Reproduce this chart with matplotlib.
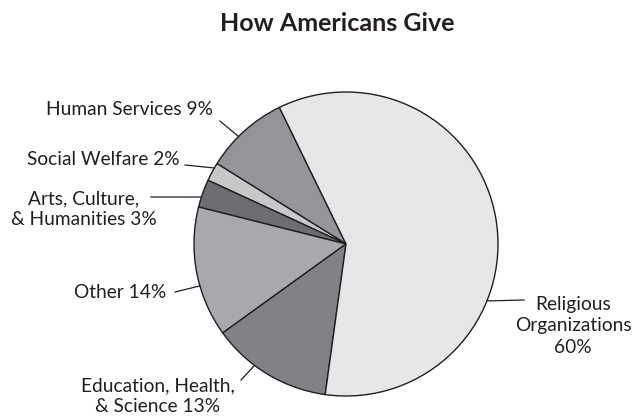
import matplotlib
matplotlib.use("Agg")
import matplotlib.pyplot as plt
import numpy as np

# data (percent of giving)
categories = ["Human Services", "Social Welfare", "Arts, Culture, & Humanities",
              "Other", "Education, Health, & Science", "Religious Organizations"]
shares = [9, 2, 3, 14, 13, 60]
label_texts = ["Human Services 9%", "Social Welfare 2%", "Arts, Culture,\n& Humanities 3%",
               "Other 14%", "Education, Health,\n& Science 13%", "Religious\nOrganizations\n60%"]

colors = ["#939598", "#c7c8ca", "#6d6e71", "#a7a9ac", "#808285", "#e6e7e8"]
INK = "#231f20"

W, H = 635, 419
plt.rcParams['font.family'] = ['Lato', 'DejaVu Sans']

fig = plt.figure(figsize=(W / 100, H / 100), dpi=100)
ax = fig.add_axes([0, 0, 1, 1])

cx, cy, r = 346, H - 244, 152
ax.pie(shares, colors=colors, startangle=116, counterclock=True,
       center=(cx, cy), radius=r, frame=True,
       wedgeprops=dict(edgecolor=INK, linewidth=1.0))
ax.set_xlim(0, W)
ax.set_ylim(0, H)
ax.set_aspect('equal')
ax.axis('off')

ax.text(337, H - 23, "How Americans Give", ha='center', va='center',
        fontsize=18, fontweight='bold', color=INK)

# label layout: (text x, text y in px from top, rim angle, line start x, line start y)
layout = [
    (130, 109, 135, 220, 121),
    (103, 159, 150, 185, 165),
    (84, 209, 162, 151, 197),
    (120, 292, 196, 175, 292),
    (158, 396, 233, 241, 380),
    (573, 326, -22, 524, 300),
]
for txt, (tx, ty, ang, lx, ly) in zip(label_texts, layout):
    a = np.deg2rad(ang)
    ax.text(tx, H - ty, txt, ha='center', va='center', fontsize=13.8, color=INK,
            linespacing=1.3, multialignment='center')
    ax.plot([lx, cx + r * np.cos(a)], [H - ly, cy + r * np.sin(a)],
            color=INK, linewidth=0.9)

fig.savefig("out.png", dpi=100, facecolor='white')
